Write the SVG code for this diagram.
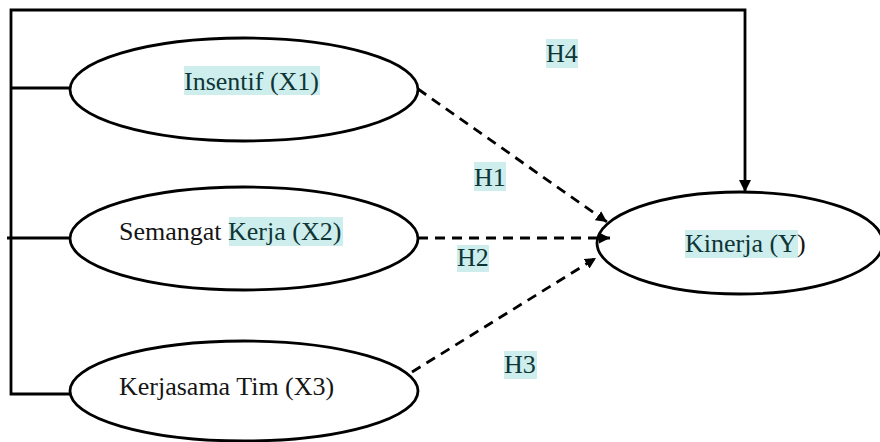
<svg xmlns="http://www.w3.org/2000/svg" width="880" height="442" viewBox="0 0 880 442">
<style>
.node ellipse{fill:#fff;stroke:#000;stroke-width:2.8}
.t{font-family:"Liberation Serif","Times New Roman",serif;font-size:26px;fill:#151515}
.hl{fill:#cdeeed}
.ht{fill:#0f3535}
.solid{fill:none;stroke:#000;stroke-width:2.8}
.dash{fill:none;stroke:#000;stroke-width:2.8;stroke-dasharray:10 7}
</style>
<defs>
<marker id="ah" viewBox="0 0 10 10" refX="10" refY="5" markerWidth="11" markerHeight="11" markerUnits="userSpaceOnUse" orient="auto">
<path d="M0,0 L10,5 L0,10 z" fill="#000"/>
</marker>
<marker id="ahv" viewBox="0 0 10 10" refX="10" refY="5" markerWidth="12" markerHeight="13" markerUnits="userSpaceOnUse" orient="auto">
<path d="M0,0 L10,5 L0,10 z" fill="#000"/>
</marker>
</defs>
<rect width="880" height="442" fill="#fff"/>
<g id="x1" class="node">
<ellipse cx="244" cy="89.5" rx="174" ry="51.5"/>
<rect class="hl" x="184" y="66" width="136" height="29"/>
<text class="t ht" x="184" y="90">Insentif (X1)</text>
</g>
<g id="x2" class="node">
<ellipse cx="244" cy="238.5" rx="174" ry="51.5"/>
<rect class="hl" x="229" y="217" width="114" height="29"/>
<text class="t" x="119" y="240">Semangat <tspan class="ht">Kerja (X2)</tspan></text>
</g>
<g id="x3" class="node">
<ellipse cx="244" cy="391" rx="174" ry="50"/>
<text class="t" x="119" y="395">Kerjasama Tim (X3)</text>
</g>
<g id="y" class="node">
<ellipse cx="740" cy="243" rx="143" ry="51"/>
<rect class="hl" x="685" y="230" width="113" height="28"/>
<text class="t" x="685" y="252"><tspan class="ht">Kinerja (Y</tspan>)</text>
</g>
<g id="connectors">
<polyline class="solid" points="70,88 11,88"/>
<polyline class="solid" points="70,238 7,238"/>
<polyline class="solid" points="70,394 11,394 11,10 745,10 745,192" marker-end="url(#ahv)"/>
<line class="dash" x1="418" y1="89" x2="607" y2="222" marker-end="url(#ah)"/>
<line class="dash" x1="418" y1="238" x2="610" y2="238" marker-end="url(#ah)"/>
<line class="dash" x1="412" y1="372" x2="596" y2="258" marker-end="url(#ah)"/>
</g>
<g id="labels">
<rect class="hl" x="546" y="39" width="32" height="29"/>
<text class="t ht" x="546" y="62">H4</text>
<rect class="hl" x="474" y="162" width="32" height="29"/>
<text class="t ht" x="474" y="186">H1</text>
<rect class="hl" x="457" y="245" width="32" height="27"/>
<text class="t ht" x="457" y="266">H2</text>
<rect class="hl" x="504" y="351" width="33" height="28"/>
<text class="t ht" x="504" y="373">H3</text>
</g>
</svg>
